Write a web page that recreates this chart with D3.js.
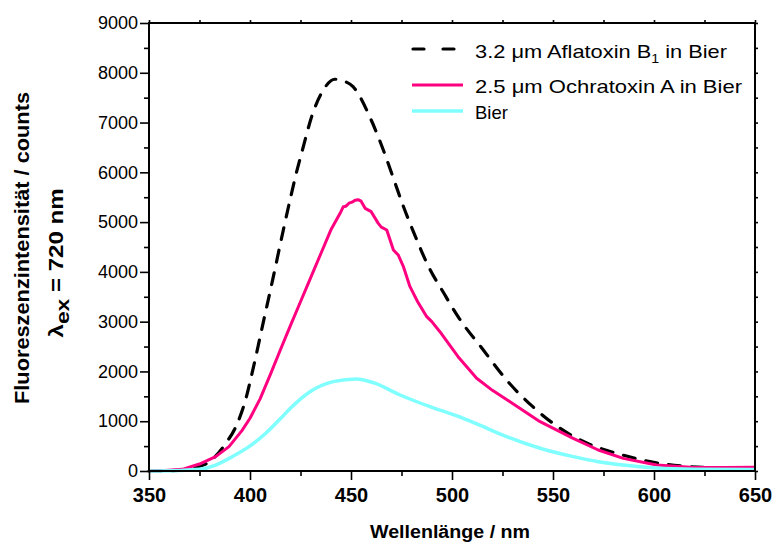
<!DOCTYPE html>
<html><head><meta charset="utf-8">
<script src="https://cdn.jsdelivr.net/npm/d3@7"></script>
<style>body{margin:0;background:#fff}svg{display:block}</style></head>
<body>
<svg id="c" width="773" height="542"></svg>
<script>
// ---- data ----
const aflaWl = [350,360,370,380,388,393,398,401,407,411,416.5,419.8,423.1,426.4,430.5,436.3,442,446,451,460,466,471,476,482,488,496,503,515.5,527,540,553.5,568,581.5,598,618,635,650];
const aflaVal = [0,5,40,190,556,890,1460,1962,3066,3800,4841,5444,6013,6515,7117,7654,7870,7840,7720,7051,6448,5880,5309,4700,4138,3570,3100,2431,1828,1292,857,540,355,187,87,65,60];

const ochraWl = [350,358,366.5,375,383,389.6,396,400,405,410,415,420,425,430,435,440,444.6,446.2,447.5,449,450.5,452,453.5,455,457,460,463.5,465,467.7,471,473.4,476,479.2,483,487.5,490,494,503,512.2,520,528.7,543.6,560,572.4,584.8,601.3,618,635,650];
const ochraVal = [0,10,33,140,288,489,810,1060,1450,1930,2430,2920,3400,3880,4360,4840,5176,5310,5320,5380,5400,5440,5450,5420,5277,5210,4975,4900,4841,4440,4339,4100,3703,3400,3100,3000,2798,2296,1862,1620,1393,991,657,422,254,120,74,70,75];

const bierWl = [350,365,374.8,383,391.2,399.5,407.8,416,420,429.7,441.2,452.8,461,474.3,489.1,505.6,512,527,543.6,560,572.4,584.8,601,620,650];
const bierVal = [0,10,33,120,288,489,757,1091,1260,1593,1795,1850,1774,1527,1292,1059,950,690,456,288,187,120,60,35,30];

const xMajor = [350,400,450,500,550,600,650];
const xMinor = [375,425,475,525,575,625];
const yMajor = [0,1000,2000,3000,4000,5000,6000,7000,8000,9000];
const yMinor = [500,1500,2500,3500,4500,5500,6500,7500,8500];

const legendLabels = ["3.2 \u03BCm Aflatoxin B", "2.5 \u03BCm Ochratoxin A in Bier", "Bier"];

// ---- chart ----
const svg = d3.select('#c');
const x = d3.scaleLinear().domain([350,650]).range([149,755]);
const y = d3.scaleLinear().domain([0,9000]).range([471,23]);
const FONT = "Arial, 'Liberation Sans', Helvetica, sans-serif";

const lineSmooth = d3.line().x(d=>x(d[0])).y(d=>y(d[1])).curve(d3.curveMonotoneX);
const lineLin = d3.line().x(d=>x(d[0])).y(d=>y(d[1])).curve(d3.curveLinear);

const g = svg.append('g');
g.append('path').datum(d3.zip(aflaWl, aflaVal)).attr('d', lineSmooth)
  .attr('fill','none').attr('stroke','#000').attr('stroke-width',3.2)
  .attr('stroke-dasharray','12,11').attr('stroke-linecap','round');
g.append('path').datum(d3.zip(ochraWl, ochraVal)).attr('d', lineLin)
  .attr('fill','none').attr('stroke','#FF0080').attr('stroke-width',3)
  .attr('stroke-linejoin','round');
g.append('path').datum(d3.zip(bierWl, bierVal)).attr('d', lineSmooth)
  .attr('fill','none').attr('stroke','#80FFFF').attr('stroke-width',3.5);

function styleAxis(sel){
  sel.select('.domain').remove();
  sel.selectAll('line').attr('stroke','#000').attr('stroke-width',1.6);
}
const gb = svg.append('g').attr('transform','translate(0,471)')
  .call(d3.axisBottom(x).tickValues(xMajor).tickSize(9).tickPadding(8).tickFormat(d3.format('d')));
styleAxis(gb);
gb.selectAll('text').attr('font-family',FONT).attr('font-size',20).attr('font-weight','bold').attr('fill','#000');
const gbm = svg.append('g').attr('transform','translate(0,471)')
  .call(d3.axisBottom(x).tickValues(xMinor).tickSize(5).tickFormat(''));
styleAxis(gbm);

const gl = svg.append('g').attr('transform','translate(149,0)')
  .call(d3.axisLeft(y).tickValues(yMajor).tickSize(9).tickPadding(2).tickFormat(d3.format('d')));
styleAxis(gl);
gl.selectAll('text').attr('font-family',FONT).attr('font-size',18).attr('fill','#000');
const glm = svg.append('g').attr('transform','translate(149,0)')
  .call(d3.axisLeft(y).tickValues(yMinor).tickSize(5).tickFormat(''));
styleAxis(glm);

const gt = svg.append('g').attr('transform','translate(0,23)')
  .call(d3.axisTop(x).tickValues(xMajor.concat(xMinor)).tickSize(3).tickFormat(''));
styleAxis(gt);
const gr = svg.append('g').attr('transform','translate(755,0)')
  .call(d3.axisRight(y).tickValues(yMajor.concat(yMinor)).tickSize(3).tickFormat(''));
styleAxis(gr);

svg.append('rect').attr('x',149).attr('y',23).attr('width',606).attr('height',448)
  .attr('fill','none').attr('stroke','#000').attr('stroke-width',2);

// axis titles
svg.append('text').attr('x',450).attr('y',538).attr('text-anchor','middle')
  .attr('font-family',FONT).attr('font-size',18).attr('font-weight','bold')
  .attr('textLength',160).attr('lengthAdjust','spacingAndGlyphs')
  .text('Wellenl\u00E4nge / nm');

svg.append('text').attr('transform','translate(29,248) rotate(-90)').attr('text-anchor','middle')
  .attr('font-family',FONT).attr('font-size',20).attr('font-weight','bold')
  .attr('textLength',312).attr('lengthAdjust','spacingAndGlyphs')
  .text('Fluoreszenzintensit\u00E4t / counts');

const t2 = svg.append('text').attr('transform','translate(63,263) rotate(-90)').attr('text-anchor','middle')
  .attr('font-family',FONT).attr('font-size',20).attr('font-weight','bold')
  .attr('textLength',149).attr('lengthAdjust','spacingAndGlyphs');
t2.append('tspan').text('\u03BB');
t2.append('tspan').attr('dy',6).attr('font-size',19).text('ex');
t2.append('tspan').attr('dy',-6).text(' = 720 nm');

// legend
const lg = svg.append('g');
lg.append('line').attr('x1',413).attr('x2',457).attr('y1',49).attr('y2',49)
  .attr('stroke','#000').attr('stroke-width',3.2).attr('stroke-dasharray','11,19').attr('stroke-linecap','round');
lg.append('line').attr('x1',412).attr('x2',463).attr('y1',85).attr('y2',85)
  .attr('stroke','#FF0080').attr('stroke-width',3);
lg.append('line').attr('x1',412).attr('x2',463).attr('y1',111).attr('y2',111)
  .attr('stroke','#80FFFF').attr('stroke-width',3.5);

const l1 = lg.append('text').attr('x',475).attr('y',58).attr('font-family',FONT).attr('font-size',18.5)
  .attr('textLength',252).attr('lengthAdjust','spacingAndGlyphs');
l1.append('tspan').text(legendLabels[0]);
l1.append('tspan').attr('dy',5).attr('font-size',12).text('1');
l1.append('tspan').attr('dy',-5).text(' in Bier');
lg.append('text').attr('x',475).attr('y',93).attr('font-family',FONT).attr('font-size',18.5)
  .attr('textLength',267).attr('lengthAdjust','spacingAndGlyphs').text(legendLabels[1]);
lg.append('text').attr('x',475).attr('y',119).attr('font-family',FONT).attr('font-size',18.5)
  .text(legendLabels[2]);
</script>
</body></html>
